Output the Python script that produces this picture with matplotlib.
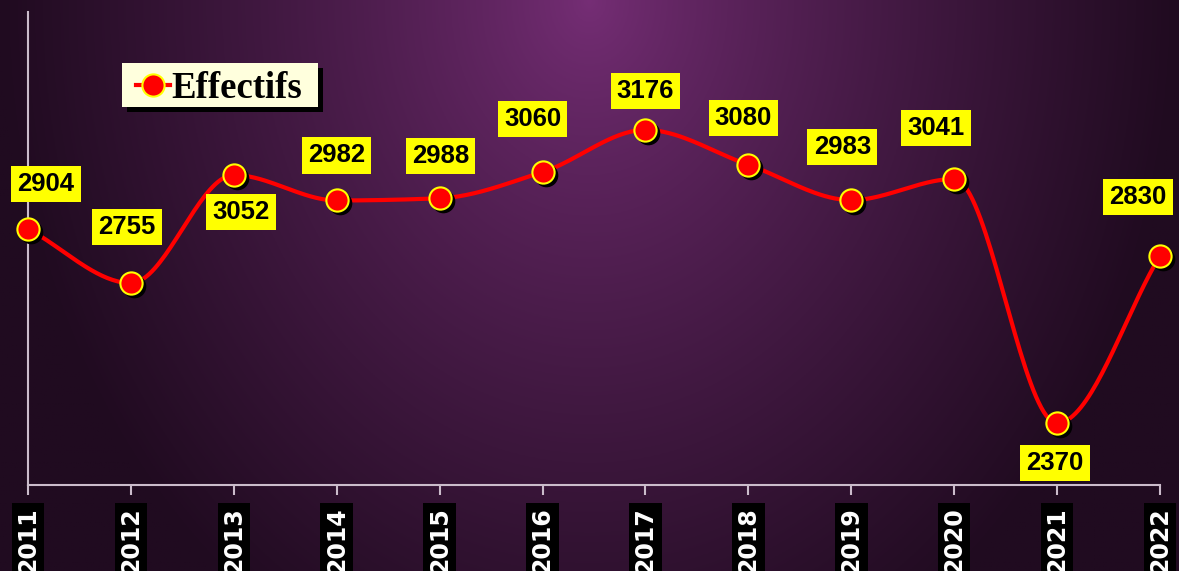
import numpy as np
import matplotlib.pyplot as plt
from matplotlib import transforms
from matplotlib.lines import Line2D
from matplotlib.patches import Rectangle

years = [2011, 2012, 2013, 2014, 2015, 2016, 2017, 2018, 2019, 2020, 2021, 2022]
effectifs = [2904, 2755, 3052, 2982, 2988, 3060, 3176, 3080, 2983, 3041, 2370, 2830]
# label offsets (pixels): dx, dy relative to the point
label_dx = [18, -4, 7, 0, 1, -10, 0, -5, -9, -18, -2, -22]
label_dy = [45, 56, -37, 45, 42, 53, 39, 47, 53, 51, -40, 59]


def smooth_curve(x, y, n=40):
    # monotone cubic (Fritsch-Carlson) through the points
    x = np.asarray(x, float)
    y = np.asarray(y, float)
    h = np.diff(x)
    m = np.diff(y) / h
    d = np.zeros_like(y)
    d[0], d[-1] = m[0], m[-1]
    for i in range(1, len(y) - 1):
        if m[i - 1] * m[i] > 0:
            d[i] = 2 / (1 / m[i - 1] + 1 / m[i])
    xs, ys = [], []
    t = np.linspace(0, 1, n)
    for i in range(len(x) - 1):
        h00 = 2 * t**3 - 3 * t**2 + 1
        h10 = t**3 - 2 * t**2 + t
        h01 = -2 * t**3 + 3 * t**2
        h11 = t**3 - t**2
        xs.append(x[i] + t * h[i])
        ys.append(h00 * y[i] + h10 * h[i] * d[i] + h01 * y[i + 1] + h11 * h[i] * d[i + 1])
    return np.concatenate(xs), np.concatenate(ys)


W, H = 1179, 571
fig = plt.figure(figsize=(W / 100, H / 100), dpi=100)

# background: radial purple gradient
bg = fig.add_axes([0, 0, 1, 1], zorder=-10)
gx, gy = np.meshgrid(np.linspace(-1, 1, 600), np.linspace(0, 1, 300))
r = np.sqrt((gx / 1.0) ** 2 + (gy / 1.3) ** 2)
r = np.clip(r, 0, 1)
c_in = np.array([0x76, 0x2e, 0x76]) / 255
c_out = np.array([0x20, 0x0b, 0x20]) / 255
w = r[..., None] ** 0.8
img = c_in * (1 - w) + c_out * w
bg.imshow(img, aspect="auto", extent=[0, 1, 0, 1], origin="upper")
bg.axis("off")

ax = fig.add_axes([28 / W, (H - 485) / H, (1160 - 28) / W, (485 - 12) / H])
ax.patch.set_alpha(0)
ax.set_xlim(years[0], years[-1])
ax.set_ylim(2200, 3500)

axis_col = "#cbbccb"
for s in ["top", "right"]:
    ax.spines[s].set_visible(False)
for s in ["left", "bottom"]:
    ax.spines[s].set_color(axis_col)
    ax.spines[s].set_linewidth(1.5)
ax.set_yticks([])
ax.set_xticks(years)
ax.set_xticklabels([str(y) for y in years], rotation=90, color="white",
                   fontsize=17, fontweight="bold", family="DejaVu Sans", va="top")
ax.tick_params(axis="x", direction="out", length=7, width=1.5, color=axis_col, pad=9)
for lbl in ax.get_xticklabels():
    lbl.set_bbox(dict(facecolor="black", edgecolor="none", pad=3))

sx, sy = smooth_curve(years, effectifs)
ax.plot(sx, sy, color="#ff0000", lw=3, zorder=3, solid_capstyle="round", clip_on=False)

shadow = ax.transData + transforms.ScaledTranslation(3 / 100, -3 / 100, fig.dpi_scale_trans)
ax.plot(years, effectifs, "o", ms=16, color="black", mec="black", transform=shadow,
        zorder=4, clip_on=False)
ax.plot(years, effectifs, "o", ms=16, color="#ff0000", mec="#ffff00", mew=1.5,
        zorder=5, clip_on=False)

for x, y, dx, dy in zip(years, effectifs, label_dx, label_dy):
    ax.annotate(str(y), (x, y), xytext=(dx * 0.72, dy * 0.72), textcoords="offset points",
                ha="center", va="center", fontsize=18.5, fontweight="bold",
                family="Liberation Sans", color="black", zorder=6,
                bbox=dict(facecolor="#ffff00", edgecolor="none", pad=4.5))

# legend box drawn by hand (pixel layout of the reference)
lx0, ly0, lx1, ly1 = 122, 63, 318, 107
fig.patches.append(Rectangle(((lx0 + 5) / W, 1 - (ly1 + 5) / H), (lx1 - lx0) / W,
                             (ly1 - ly0) / H, transform=fig.transFigure,
                             facecolor="black", edgecolor="none", zorder=7))
fig.patches.append(Rectangle((lx0 / W, 1 - ly1 / H), (lx1 - lx0) / W, (ly1 - ly0) / H,
                             transform=fig.transFigure, facecolor="#ffffdd",
                             edgecolor="none", zorder=8))
ymid = 1 - 85 / H
fig.add_artist(Line2D([136 / W, 170 / W], [ymid, ymid], color="#ff0000", lw=3,
                      transform=fig.transFigure, zorder=9))
fig.add_artist(Line2D([153 / W], [ymid], marker="o", ms=16, mfc="#ff0000", mec="#ffff00",
                      mew=1.5, transform=fig.transFigure, zorder=10))
fig.text(171 / W, ymid, "Effectifs", ha="left", va="center_baseline",
         family="Liberation Serif", weight="bold", size=26.5, color="black", zorder=10)

fig.savefig("out.png", dpi=100)
